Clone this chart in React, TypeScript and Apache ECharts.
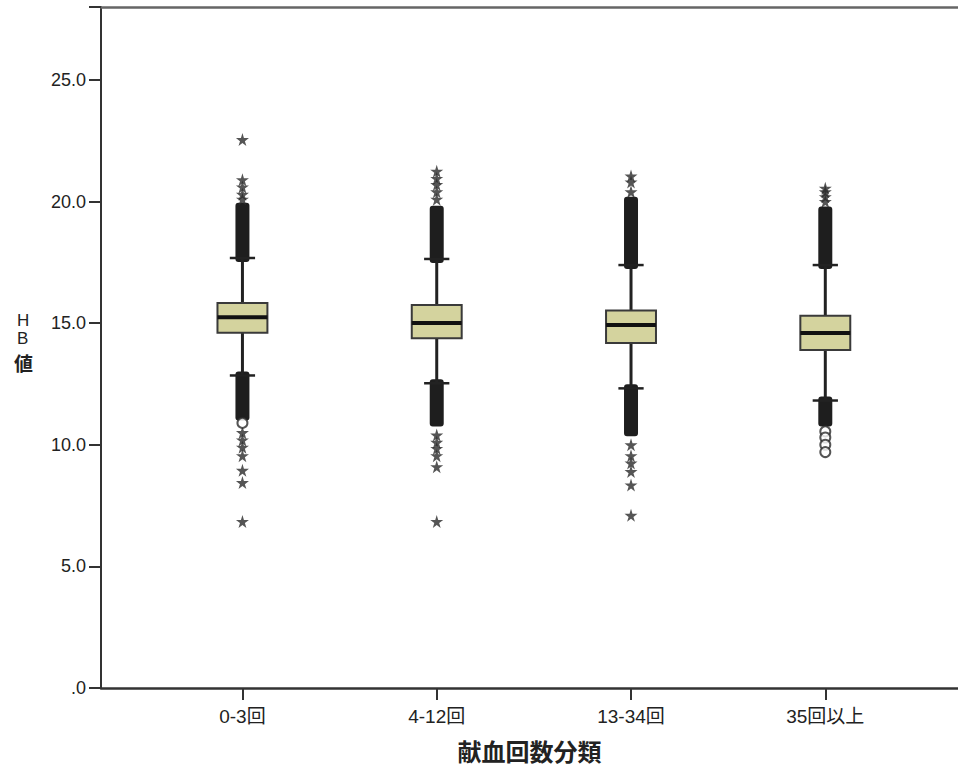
import React, { useEffect, useRef } from "react";
import * as echarts from "echarts";

const categories = ["0-3回", "4-12回", "13-34回", "35回以上"];
const yTicks = [0, 5, 10, 15, 20, 25];
const q1 = [14.61, 14.38, 14.18, 13.9];
const medians = [15.24, 15.01, 14.93, 14.6];
const q3 = [15.83, 15.75, 15.52, 15.31];
const whiskerLow = [12.85, 12.53, 12.32, 11.82];
const whiskerHigh = [17.68, 17.64, 17.39, 17.39];
// extent of the solid cluster of overlapping outlier markers
const denseHighTop = [19.95, 19.83, 20.2, 19.8];
const denseLowBottom = [11.0, 10.75, 10.35, 10.75];
// individually visible outliers
const upperStars = [
  [20.1, 20.3, 20.6, 20.9, 22.55],
  [20.1, 20.4, 20.7, 20.95, 21.25],
  [20.4, 20.8, 21.05],
  [20.0, 20.2, 20.4, 20.55],
];
const lowerStars = [
  [10.5, 10.2, 9.9, 9.55, 8.95, 8.45, 6.85],
  [10.4, 10.1, 9.85, 9.55, 9.1, 6.85],
  [10.0, 9.55, 9.25, 8.9, 8.35, 7.1],
  [],
];
const lowerCircles = [[10.9], [], [], [10.55, 10.3, 10.0, 9.7]];

const STAR =
  "path://M50,0 L61,35 L98,35 L68,57 L79,91 L50,70 L21,91 L32,57 L2,35 L39,35 Z";

const X_MIN = 0.272;
const X_MAX = 4.683;
const LABEL_FONT = "'Liberation Sans', Arial, 'Noto Sans CJK JP', sans-serif";

export default function App() {
  const ref = useRef<HTMLDivElement>(null);
  useEffect(() => {
    if (!ref.current) return;
    const chart = echarts.init(ref.current, null, { renderer: "svg" });
    const boxData = categories.map((_, i) => [
      i + 1,
      q1[i],
      medians[i],
      q3[i],
      whiskerLow[i],
      whiskerHigh[i],
      denseLowBottom[i],
      denseHighTop[i],
    ]);
    const starData = [
      ...upperStars.flatMap((arr, i) => arr.map((v) => [i + 1, v])),
      ...lowerStars.flatMap((arr, i) => arr.map((v) => [i + 1, v])),
    ];
    const circleData = lowerCircles.flatMap((arr, i) => arr.map((v) => [i + 1, v]));
    const dark = "#222";
    chart.setOption({
      animation: false,
      backgroundColor: "#fff",
      grid: { left: 101, right: 0, top: 7, bottom: 82 },
      xAxis: [
        {
          type: "value",
          min: X_MIN,
          max: X_MAX,
          position: "bottom",
          splitLine: { show: false },
          axisLine: { show: true, onZero: false, lineStyle: { color: "#333", width: 2.5 } },
          axisTick: {
            show: true,
            customValues: [1, 2, 3, 4],
            length: 12,
            lineStyle: { color: "#333", width: 2 },
          },
          axisLabel: {
            customValues: [1, 2, 3, 4],
            formatter: (v: number) => categories[Math.round(v) - 1] ?? "",
            margin: 19,
            fontSize: 19,
            color: "#222",
            fontFamily: LABEL_FONT,
          },
          name: "献血回数分類",
          nameLocation: "middle",
          nameGap: 50,
          nameTextStyle: {
            fontSize: 24,
            fontWeight: "bold",
            color: "#222",
            fontFamily: "'Noto Sans CJK JP', sans-serif",
          },
        },
        {
          type: "value",
          min: X_MIN,
          max: X_MAX,
          position: "top",
          splitLine: { show: false },
          axisLine: { show: true, onZero: false, lineStyle: { color: "#666", width: 2.5 } },
          axisTick: { show: false },
          axisLabel: { show: false },
        },
      ],
      yAxis: {
        type: "value",
        min: 0,
        max: 28,
        interval: 5,
        splitLine: { show: false },
        axisLine: { show: true, onZero: false, lineStyle: { color: "#333", width: 2 } },
        axisTick: { show: true, length: 12, lineStyle: { color: "#333", width: 2 } },
        axisLabel: {
          margin: 15,
          fontSize: 18,
          color: "#222",
          fontFamily: LABEL_FONT,
          formatter: (v: number) => (v === 0 ? ".0" : v.toFixed(1)),
          customValues: yTicks,
        },
      },
      graphic: [
        {
          type: "text",
          left: 17,
          top: 312,
          style: {
            text: "H",
            fill: "#222",
            font: "17px 'Liberation Sans', Arial",
            lineHeight: 17,
          },
        },
        {
          type: "text",
          left: 17,
          top: 330,
          style: {
            text: "B",
            fill: "#222",
            font: "17px 'Liberation Sans', Arial",
            lineHeight: 17,
          },
        },
        {
          type: "text",
          left: 14,
          top: 353,
          style: {
            text: "値",
            fill: "#222",
            font: "bold 19px 'Noto Sans CJK JP', sans-serif",
            lineHeight: 19,
          },
        },
      ],
      series: [
        {
          type: "custom",
          xAxisIndex: 0,
          data: boxData,
          encode: { x: 0, y: [1, 2, 3, 4, 5, 6, 7] },
          renderItem: (params: any, api: any) => {
            const x = api.value(0);
            const c = (v: number) => api.coord([x, v]);
            const boxW = api.size([0.257, 0])[0];
            const capW = api.size([0.13, 0])[0];
            const bandW = api.size([0.072, 0])[0];
            const [cx, yQ1] = c(api.value(1));
            const yMed = c(api.value(2))[1];
            const yQ3 = c(api.value(3))[1];
            const yLo = c(api.value(4))[1];
            const yHi = c(api.value(5))[1];
            const yDenseLo = c(api.value(6))[1];
            const yDenseHi = c(api.value(7))[1];
            return {
              type: "group",
              children: [
                {
                  type: "rect",
                  shape: { x: cx - bandW / 2, y: yDenseHi, width: bandW, height: yHi - yDenseHi + 4, r: 3 },
                  style: { fill: "#1e1e1e" },
                },
                {
                  type: "rect",
                  shape: { x: cx - bandW / 2, y: yLo - 4, width: bandW, height: yDenseLo - yLo + 4, r: 3 },
                  style: { fill: "#1e1e1e" },
                },
                {
                  type: "line",
                  shape: { x1: cx, y1: yHi, x2: cx, y2: yQ3 },
                  style: { stroke: dark, lineWidth: 3 },
                },
                {
                  type: "line",
                  shape: { x1: cx, y1: yQ1, x2: cx, y2: yLo },
                  style: { stroke: dark, lineWidth: 3 },
                },
                {
                  type: "line",
                  shape: { x1: cx - capW / 2, y1: yHi, x2: cx + capW / 2, y2: yHi },
                  style: { stroke: dark, lineWidth: 2.5 },
                },
                {
                  type: "line",
                  shape: { x1: cx - capW / 2, y1: yLo, x2: cx + capW / 2, y2: yLo },
                  style: { stroke: dark, lineWidth: 2.5 },
                },
                {
                  type: "rect",
                  shape: { x: cx - boxW / 2, y: yQ3, width: boxW, height: yQ1 - yQ3 },
                  style: { fill: "#d4d39e", stroke: "#3a3a3a", lineWidth: 2 },
                },
                {
                  type: "line",
                  shape: { x1: cx - boxW / 2, y1: yMed, x2: cx + boxW / 2, y2: yMed },
                  style: { stroke: "#111", lineWidth: 4 },
                },
              ],
            };
          },
          z: 2,
        },
        {
          type: "scatter",
          xAxisIndex: 0,
          data: starData,
          symbol: STAR,
          symbolSize: 13,
          itemStyle: { color: "#2a2a2a" },
          z: 3,
        },
        {
          type: "scatter",
          xAxisIndex: 0,
          data: circleData,
          symbol: "emptyCircle",
          symbolSize: 10,
          itemStyle: { color: "#2b2b2b", borderColor: "#2b2b2b", borderWidth: 2 },
          z: 3,
        },
      ],
    });
    return () => chart.dispose();
  }, []);
  return (
    <div
      ref={ref}
      style={{ position: "absolute", left: 0, top: 0, width: 958, height: 770 }}
    />
  );
}
